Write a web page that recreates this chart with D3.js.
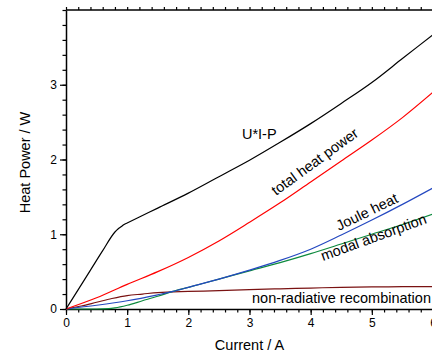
<!DOCTYPE html>
<html>
<head>
<meta charset="utf-8">
<script src="https://cdn.jsdelivr.net/npm/d3@7"></script>
<style>
  body { margin: 0; background: #fff; }
  svg { display: block; font-family: "Liberation Sans", Arial, sans-serif; }
</style>
</head>
<body>
<svg id="chart"></svg>
<script>
// current (A) and heat power (W)
const uipCurrent = [0, 0.2, 0.4, 0.6, 0.8, 0.85, 0.9, 0.95, 1.0, 1.2, 1.5, 2.0, 2.5, 3.0, 3.5, 4.0, 4.5, 5.0, 5.5, 6.0];
const uipPower   = [0, 0.26, 0.52, 0.78, 1.03, 1.07, 1.10, 1.13, 1.15, 1.23, 1.35, 1.55, 1.77, 1.99, 2.23, 2.48, 2.75, 3.03, 3.35, 3.67];

const totalCurrent = [0, 0.5, 1.0, 1.5, 2.0, 2.5, 3.0, 3.5, 4.0, 4.5, 5.0, 5.5, 6.0];
const totalPower   = [0, 0.15, 0.33, 0.50, 0.69, 0.91, 1.16, 1.42, 1.70, 1.98, 2.26, 2.56, 2.90];

const jouleCurrent = [0, 0.5, 1.0, 1.5, 1.75, 2.0, 2.5, 3.0, 3.5, 4.0, 4.5, 5.0, 5.5, 6.0];
const joulePower   = [0, 0.05, 0.11, 0.19, 0.235, 0.29, 0.40, 0.52, 0.65, 0.80, 0.99, 1.19, 1.40, 1.62];

const modalCurrent = [0, 0.5, 0.7, 0.8, 1.0, 1.25, 1.5, 1.75, 2.0, 2.5, 3.0, 3.5, 4.0, 4.5, 5.0, 5.5, 6.0];
const modalPower   = [0, 0, 0.005, 0.015, 0.05, 0.11, 0.17, 0.235, 0.29, 0.40, 0.51, 0.62, 0.74, 0.87, 1.00, 1.13, 1.27];

const nonradCurrent = [0, 0.25, 0.5, 0.75, 1.0, 1.25, 1.5, 2.0, 2.5, 3.0, 3.5, 4.0, 4.5, 5.0, 5.5, 6.0];
const nonradPower   = [0, 0.04, 0.09, 0.14, 0.18, 0.20, 0.22, 0.235, 0.245, 0.26, 0.27, 0.28, 0.29, 0.295, 0.30, 0.30];

const xTicks = [0, 1, 2, 3, 4, 5, 6];
const yTicks = [0, 1, 2, 3];

const width = 432, height = 353;
const margin = { left: 66, top: 10, right: -1, bottom: 44 };

const svg = d3.select('#chart').attr('width', width).attr('height', height);

const x = d3.scaleLinear().domain([0, 6]).range([margin.left, width - margin.right]);
const y = d3.scaleLinear().domain([0, 4]).range([height - margin.bottom, margin.top]);

const minorX = d3.range(0, 6.01, 0.2);
const minorY = d3.range(0, 4.01, 0.2);

// minor ticks
svg.append('g')
  .attr('transform', `translate(0,${y(0)})`)
  .call(d3.axisBottom(x).tickValues(minorX).tickSize(3.5).tickFormat(''))
  .call(g => g.select('.domain').remove());
svg.append('g')
  .attr('transform', `translate(${x(0)},0)`)
  .call(d3.axisLeft(y).tickValues(minorY).tickSize(3.5).tickFormat(''))
  .call(g => g.select('.domain').remove());
svg.append('g')
  .attr('transform', `translate(0,${y(4)})`)
  .call(d3.axisBottom(x).tickValues(minorX).tickSize(-3).tickFormat(''))
  .call(g => g.select('.domain').remove());

// major axes
const xAxis = svg.append('g')
  .attr('transform', `translate(0,${y(0)})`)
  .call(d3.axisBottom(x).tickValues(xTicks).tickSize(6).tickSizeOuter(0).tickPadding(3).tickFormat(d3.format('d')));
const yAxis = svg.append('g')
  .attr('transform', `translate(${x(0)},0)`)
  .call(d3.axisLeft(y).tickValues(yTicks).tickSize(6).tickSizeOuter(0).tickPadding(3).tickFormat(d3.format('d')));

[xAxis, yAxis].forEach(g => {
  g.selectAll('text').style('font-size', '12px').attr('fill', '#000').style('font-family', '"Liberation Sans", Arial, sans-serif');
  g.selectAll('line').attr('stroke', '#000').attr('stroke-width', 1.2);
  g.select('.domain').attr('stroke', '#000').attr('stroke-width', 1.5);
});
svg.selectAll('g line').attr('stroke', '#000').attr('stroke-width', 1.2);

// top border
svg.append('line')
  .attr('x1', x(0)).attr('x2', x(6))
  .attr('y1', y(4)).attr('y2', y(4))
  .attr('stroke', '#000').attr('stroke-width', 1.5);

// curves
const series = [
  { xs: nonradCurrent, ys: nonradPower, color: '#7a1212' },
  { xs: modalCurrent, ys: modalPower, color: '#0d8a3e' },
  { xs: jouleCurrent, ys: joulePower, color: '#2448c0' },
  { xs: totalCurrent, ys: totalPower, color: '#ff0000' },
  { xs: uipCurrent, ys: uipPower, color: '#000000' }
];

const line = d3.line()
  .x(d => x(d[0]))
  .y(d => y(d[1]))
  .curve(d3.curveMonotoneX);

svg.selectAll('path.curve')
  .data(series)
  .enter()
  .append('path')
  .attr('class', 'curve')
  .attr('d', s => line(s.xs.map((v, i) => [v, s.ys[i]])))
  .attr('fill', 'none')
  .attr('stroke', s => s.color)
  .attr('stroke-width', 1.2);

// curve labels
const labels = [
  { text: 'U*I-P', at: [2.877, 2.274], angle: 0 },
  { text: 'total heat power', at: [3.433, 1.512], angle: -36 },
  { text: 'Joule heat', at: [4.463, 1.043], angle: -26 },
  { text: 'modal absorption', at: [4.201, 0.642], angle: -20 },
  { text: 'non-radiative recombination', at: [3.041, 0.080], angle: 0 }
];

svg.selectAll('text.label')
  .data(labels)
  .enter()
  .append('text')
  .attr('class', 'label')
  .attr('transform', d => `translate(${x(d.at[0])},${y(d.at[1])}) rotate(${d.angle})`)
  .style('font-size', '14.5px')
  .text(d => d.text);

// axis titles
svg.append('text')
  .attr('x', (x(0) + x(6)) / 2)
  .attr('y', 350)
  .attr('text-anchor', 'middle')
  .style('font-size', '14.5px')
  .text('Current / A');

svg.append('text')
  .attr('transform', `translate(30,${(y(0) + y(4)) / 2 + 3}) rotate(-90)`)
  .attr('text-anchor', 'middle')
  .style('font-size', '14.5px')
  .text('Heat Power / W');
</script>
</body>
</html>
